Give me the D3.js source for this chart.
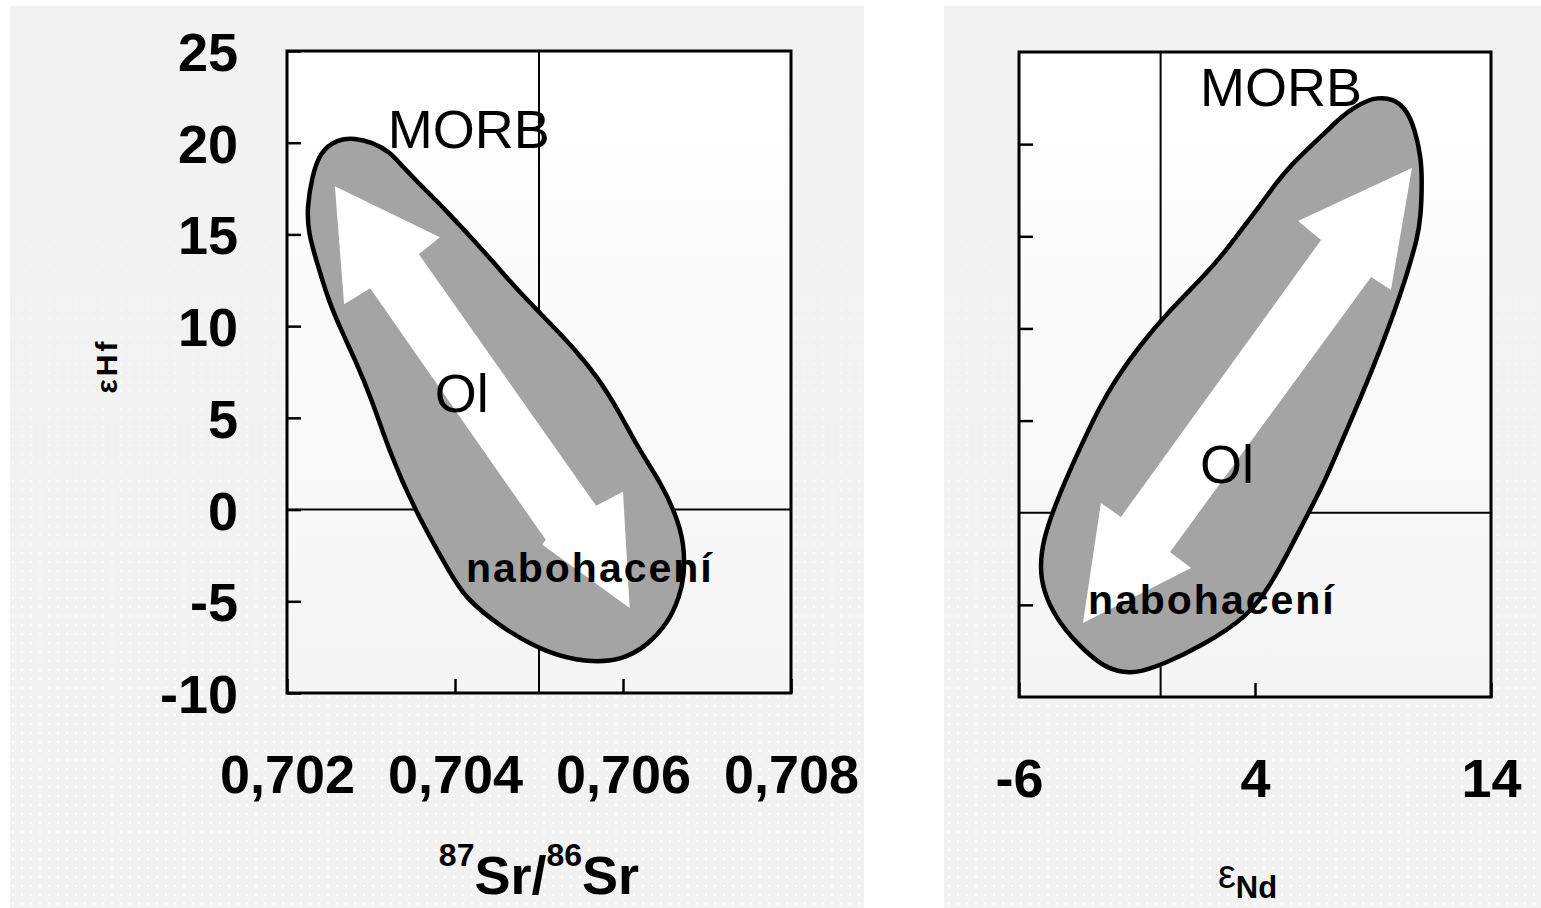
<!DOCTYPE html>
<html>
<head>
<meta charset="utf-8">
<script src="https://cdn.jsdelivr.net/npm/d3@7"></script>
<style>
  body { margin: 0; background: #ffffff; }
  text { font-family: "Liberation Sans", Arial, sans-serif; fill: #000; }
</style>
</head>
<body>
<svg id="chart" width="1541" height="908"></svg>
<script>
// tick values
const SR_TICKS = [0.702, 0.704, 0.706, 0.708];
const ND_TICKS = [-6, 4, 14];
const HF_TICKS = [25, 20, 15, 10, 5, 0, -5, -10];
const HF_MARKS = [20, 15, 10, 5, -5];

// MORB field, 87Sr/86Sr vs eHf  [x, y]
const srMorbField = [
  [0.70260, 20.20], [0.70281, 20.25], [0.70301, 20.03], [0.70323, 19.49], [0.70337, 18.72],
  [0.70358, 17.74], [0.70388, 16.37], [0.70418, 14.90], [0.70448, 13.37], [0.70477, 11.84],
  [0.70511, 10.26], [0.70543, 8.73], [0.70570, 7.20], [0.70594, 5.45], [0.70619, 3.27],
  [0.70645, 1.47], [0.70662, -0.17], [0.70673, -1.81], [0.70673, -3.67], [0.70667, -4.76],
  [0.70654, -6.18], [0.70627, -7.49], [0.70598, -8.20], [0.70560, -8.36], [0.70508, -7.82],
  [0.70454, -6.40], [0.70411, -4.76], [0.70394, -3.45], [0.70351, 0.05], [0.70321, 3.27],
  [0.70301, 6.00], [0.70281, 8.18], [0.70264, 9.82], [0.70249, 11.46], [0.70237, 13.26],
  [0.70225, 15.12], [0.70224, 16.54], [0.70230, 18.17], [0.70239, 19.49]
];

// white double arrow inside the Sr field
const srArrow = [
  [0.70257, 17.63], [0.70382, 14.84], [0.70357, 13.92], [0.70568, 0.21], [0.70600, 0.97],
  [0.70608, -5.36], [0.70504, -1.92], [0.70508, -1.65], [0.70299, 12.06], [0.70268, 11.19]
];

// MORB field, eNd vs eHf  [x, y]
const ndMorbField = [
  [9.13, 22.50], [9.85, 22.50], [10.44, 21.85], [10.78, 20.77], [11.03, 19.30],
  [11.08, 18.05], [11.03, 16.05], [10.86, 14.80], [10.57, 13.55], [10.36, 12.63],
  [9.93, 11.00], [9.30, 8.83], [8.53, 6.39], [7.52, 3.40], [6.92, 1.61],
  [6.33, 0.15], [5.61, -1.64], [4.72, -3.81], [3.70, -5.66], [1.67, -7.28],
  [0.23, -8.15], [-0.83, -8.64], [-1.55, -8.70], [-2.44, -8.37], [-3.58, -7.07],
  [-4.47, -5.66], [-4.98, -4.19], [-5.11, -2.94], [-4.98, -1.48], [-4.47, 0.42],
  [-3.84, 2.32], [-3.25, 3.95], [-2.65, 5.58], [-1.93, 7.20], [-0.87, 9.10], [0.40, 11.00],
  [1.80, 12.79], [2.69, 14.09], [3.41, 15.34], [4.17, 16.59], [4.89, 17.89],
  [5.61, 18.98], [6.33, 19.85], [7.09, 20.77], [7.64, 21.47], [8.24, 22.02], [8.83, 22.40]
];

const ndArrow = [
  [10.65, 18.71], [9.76, 12.09], [8.92, 12.79], [0.40, -2.13], [1.29, -3.00],
  [-3.29, -5.98], [-2.53, 0.53], [-1.68, -0.23], [6.80, 14.80], [5.82, 15.83]
];

// annotation anchors (data units, left/baseline)
const srLabels = [
  {text: "MORB", x: 0.70320, y: 19.70, kind: "big"},
  {text: "Ol", x: 0.70376, y: 5.34, kind: "big"},
  {text: "nabohacení", x: 0.70413, y: -3.94, kind: "small"}
];
const ndLabels = [
  {text: "MORB", x: 1.67, y: 22.07, kind: "big"},
  {text: "Ol", x: 1.67, y: 1.61, kind: "big"},
  {text: "nabohacení", x: -3.08, y: -5.49, kind: "small"}
];

const svg = d3.select("#chart");
const defs = svg.append("defs");

// dithered background look: white dots fading in towards the bottom
const dots = defs.append("pattern")
    .attr("id", "dots")
    .attr("width", 9).attr("height", 9)
    .attr("patternUnits", "userSpaceOnUse");
dots.append("rect").attr("x", 3).attr("y", 3).attr("width", 2).attr("height", 2).attr("fill", "#fff");

const fade = defs.append("linearGradient").attr("id", "fade")
    .attr("x1", 0).attr("y1", 0).attr("x2", 0).attr("y2", 1);
fade.append("stop").attr("offset", "0.05").attr("stop-color", "#fff").attr("stop-opacity", 0);
fade.append("stop").attr("offset", "1").attr("stop-color", "#fff").attr("stop-opacity", 1);
defs.append("mask").attr("id", "fadeMask").attr("maskContentUnits", "objectBoundingBox")
    .append("rect").attr("width", 1).attr("height", 1).attr("fill", "url(#fade)");

const plotBg = defs.append("linearGradient").attr("id", "plotBg")
    .attr("x1", 0).attr("y1", 0).attr("x2", 0).attr("y2", 1);
plotBg.append("stop").attr("offset", "0").attr("stop-color", "#ffffff");
plotBg.append("stop").attr("offset", "1").attr("stop-color", "#f5f5f5");

var drawPanelBg = function(x0, x1) {
    svg.append("rect").attr("x", x0).attr("y", 6).attr("width", x1 - x0).attr("height", 902)
        .attr("fill", "#f2f2f2");
    svg.append("rect").attr("x", x0).attr("y", 6).attr("width", x1 - x0).attr("height", 902)
        .attr("fill", "url(#dots)").attr("mask", "url(#fadeMask)");
};

drawPanelBg(10, 864);
drawPanelBg(944, 1541);

var drawPanel = function(p) {
    const x = p.x, y = p.y;
    const [xl, xr] = x.range();
    const [yb, yt] = y.range();
    const g = svg.append("g");

    g.append("rect")
        .attr("x", xl).attr("y", yt).attr("width", xr - xl).attr("height", yb - yt)
        .attr("fill", "url(#plotBg)");

    // reference lines through the origin values
    g.append("line")
        .attr("x1", x(p.vline)).attr("x2", x(p.vline)).attr("y1", yt).attr("y2", yb)
        .attr("stroke", "#000").attr("stroke-width", 2);
    g.append("line")
        .attr("x1", xl).attr("x2", xr).attr("y1", y(0)).attr("y2", y(0))
        .attr("stroke", "#000").attr("stroke-width", 2);

    // axes, ticks point inwards
    const yAxis = d3.axisLeft(y)
        .tickValues(p.yTicks)
        .tickSizeInner(-14).tickSizeOuter(0)
        .tickPadding(49)
        .tickFormat(p.yLabels ? (d => String(d)) : "");
    const ya = g.append("g").attr("transform", `translate(${xl},0)`).call(yAxis);

    const xAxis = d3.axisBottom(x)
        .tickValues(p.xTicks)
        .tickSizeInner(-14).tickSizeOuter(0)
        .tickPadding(62)
        .tickFormat(p.xFormat);
    const xa = g.append("g").attr("transform", `translate(0,${yb})`).call(xAxis);

    [ya, xa].forEach(a => {
        a.select(".domain").remove();
        a.selectAll(".tick line").attr("stroke", "#000").attr("stroke-width", 2.5);
        a.selectAll(".tick text")
            .attr("font-size", 54).attr("font-weight", "bold")
            .attr("font-family", "Liberation Sans, Arial, sans-serif")
            .attr("fill", "#000");
    });
    ya.selectAll(".tick text").attr("dy", "0.36em");

    // MORB field
    const line = d3.line().x(d => x(d[0])).y(d => y(d[1]));
    const smooth = d3.line().x(d => x(d[0])).y(d => y(d[1]))
        .curve(d3.curveBasisClosed);

    g.append("path").attr("d", smooth(p.field)).attr("fill", "#a4a4a4");
    g.append("path").attr("d", line(p.arrow) + "Z").attr("fill", "#ffffff");
    g.append("path").attr("d", smooth(p.field))
        .attr("fill", "none").attr("stroke", "#000").attr("stroke-width", 4.5)
        .attr("stroke-linejoin", "round");

    // frame
    g.append("rect")
        .attr("x", xl).attr("y", yt).attr("width", xr - xl).attr("height", yb - yt)
        .attr("fill", "none").attr("stroke", "#000").attr("stroke-width", 3);

    // annotations
    g.selectAll(".note")
        .data(p.labels)
        .enter()
        .append("text")
        .attr("class", "note")
        .attr("x", d => x(d.x))
        .attr("y", d => y(d.y))
        .attr("font-size", d => d.kind === "big" ? 54 : 41)
        .attr("font-weight", d => d.kind === "big" ? "normal" : "bold")
        .attr("letter-spacing", d => d.kind === "big" ? 0 : 2)
        .text(d => d.text);

    return g;
};

const xSr = d3.scaleLinear().domain([0.702, 0.708]).range([287, 791]);
const yHfL = d3.scaleLinear().domain([-10, 25]).range([693, 51]);
const xNd = d3.scaleLinear().domain([-6, 14]).range([1019, 1491]);
const yHfR = d3.scaleLinear().domain([-10, 25]).range([697, 52]);

drawPanel({
    x: xSr, y: yHfL, vline: 0.705,
    xTicks: SR_TICKS, yTicks: HF_TICKS, yLabels: true,
    xFormat: d => d3.format(".3f")(d).replace(".", ","),
    field: srMorbField, arrow: srArrow, labels: srLabels
});

drawPanel({
    x: xNd, y: yHfR, vline: 0,
    xTicks: ND_TICKS, yTicks: HF_MARKS, yLabels: false,
    xFormat: d => String(d),
    field: ndMorbField, arrow: ndArrow, labels: ndLabels
});

// axis titles
const srTitle = svg.append("text")
    .attr("x", xSr(0.705)).attr("y", 894)
    .attr("text-anchor", "middle")
    .attr("font-weight", "bold");
srTitle.append("tspan").attr("font-size", 32).attr("dy", -28).text("87");
srTitle.append("tspan").attr("font-size", 54).attr("dy", 28).text("Sr/");
srTitle.append("tspan").attr("font-size", 32).attr("dy", -28).text("86");
srTitle.append("tspan").attr("font-size", 54).attr("dy", 28).text("Sr");

const ndTitle = svg.append("text")
    .attr("x", xNd(4) - 37).attr("y", 888);
ndTitle.append("tspan").attr("font-size", 40).text("ε");
ndTitle.append("tspan").attr("font-size", 31).attr("font-weight", "bold").attr("dy", 10).text("Nd");

svg.append("text")
    .attr("transform", "translate(106,366) rotate(-90)")
    .attr("text-anchor", "middle")
    .attr("dominant-baseline", "central")
    .attr("font-size", 30).attr("font-weight", "bold")
    .attr("letter-spacing", 3)
    .text("εHf");
</script>
</body>
</html>
